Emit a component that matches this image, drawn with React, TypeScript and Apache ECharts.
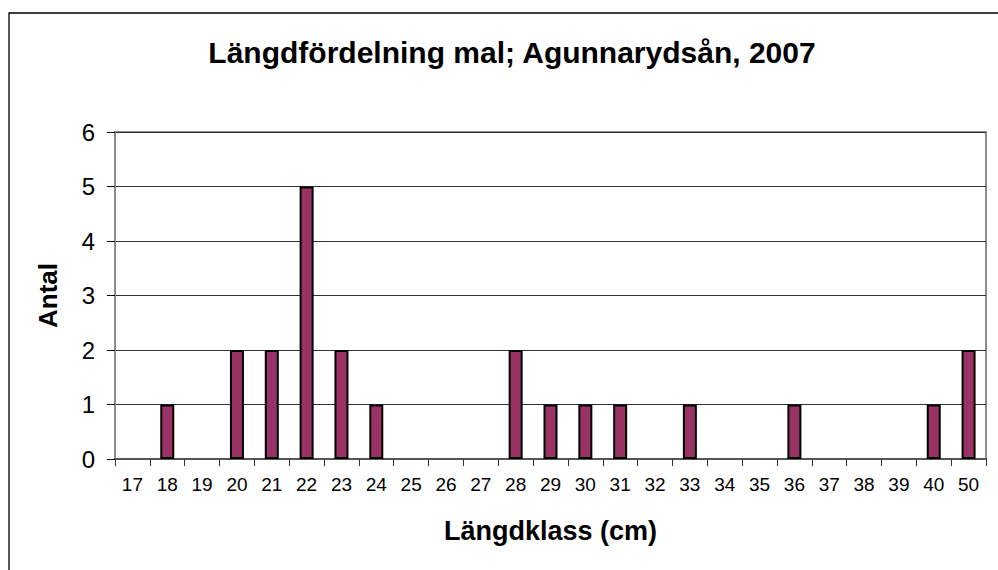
import React, { useEffect, useRef } from "react";
import * as echarts from "echarts";

const categories = ["17","18","19","20","21","22","23","24","25","26","27","28","29","30","31","32","33","34","35","36","37","38","39","40","50"];
const counts = [0,1,0,2,2,5,2,1,0,0,0,2,1,1,1,0,1,0,0,1,0,0,0,1,2];
const titleText = "Längdfördelning mal; Agunnarydsån, 2007";
const xName = "Längdklass (cm)";
const yName = "Antal";

export default function App() {
  const ref = useRef<HTMLDivElement>(null);
  useEffect(() => {
    if (!ref.current) return;
    const chart = echarts.init(ref.current, undefined, { renderer: "svg" });
    const font = "Arial, 'Liberation Sans', Helvetica, sans-serif";
    chart.setOption({
      animation: false,
      backgroundColor: "#ffffff",
      title: {
        text: titleText,
        left: 507,
        textAlign: "center",
        top: 32,
        textStyle: { fontFamily: font, fontSize: 30, fontWeight: "bold", color: "#000" },
      },
      graphic: [
        {
          type: "rect",
          shape: { x: 9, y: 13, width: 1000, height: 600 },
          style: { fill: "none", stroke: "#000", lineWidth: 1.3 },
          silent: true,
        },
      ],
      grid: {
        left: 115,
        top: 132,
        right: 12,
        bottom: 111,
        show: true,
        borderColor: "#8c8c8c",
        borderWidth: 2,
        backgroundColor: "transparent",
      },
      xAxis: {
        type: "category",
        data: categories,
        boundaryGap: true,
        name: xName,
        nameLocation: "middle",
        nameGap: 58,
        nameTextStyle: { fontFamily: font, fontSize: 27, fontWeight: "bold", color: "#000" },
        axisLine: { show: true, lineStyle: { color: "#555", width: 2 } },
        axisTick: { show: true, interval: 0, length: 7, lineStyle: { color: "#333", width: 1 } },
        axisLabel: { interval: 0, fontFamily: font, fontSize: 19, color: "#000", margin: 16 },
        splitLine: { show: false },
      },
      yAxis: {
        type: "value",
        min: 0,
        max: 6,
        interval: 1,
        name: yName,
        nameLocation: "middle",
        nameGap: 54,
        nameRotate: 90,
        nameTextStyle: { fontFamily: font, fontSize: 26, fontWeight: "bold", color: "#000" },
        axisLine: { show: true, lineStyle: { color: "#8c8c8c", width: 2 } },
        axisTick: { show: true, length: 8, lineStyle: { color: "#000", width: 1 } },
        axisLabel: { fontFamily: font, fontSize: 24, color: "#000", margin: 20 },
        splitLine: { show: true, lineStyle: { color: "#333", width: 1 } },
      },
      series: [
        {
          type: "bar",
          data: counts.map((v) => (v === 0 ? null : v)),
          barWidth: 14,
          itemStyle: { color: "#993366", borderColor: "#000", borderWidth: 2 },
        },
      ],
    });
    return () => chart.dispose();
  }, []);
  return (
    <div
      ref={ref}
      style={{ position: "fixed", left: 0, top: 0, width: 998, height: 570 }}
    />
  );
}
